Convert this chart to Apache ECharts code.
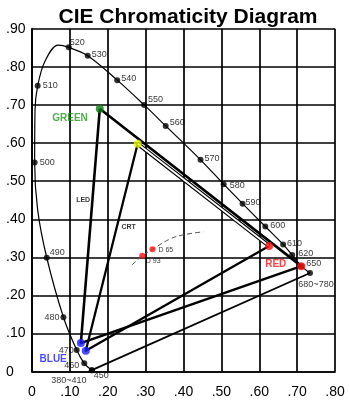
<!DOCTYPE html>
<html>
<head>
<meta charset="utf-8">
<script src="https://cdn.jsdelivr.net/npm/echarts@6/dist/echarts.min.js"></script>
<style>
  html, body { margin: 0; padding: 0; background: #fff; }
  #chart { width: 350px; height: 405px; }
</style>
</head>
<body>
<div id="chart"></div>
<script>
// Wavelength markers on the spectral locus (nm) and their chromaticity coordinates
const markerNames = ['380~410', '450', '460', '470', '480', '490', '500', '510', '520', '530', '540',
  '550', '560', '570', '580', '590', '600', '610', '620', '650', '680~780'];
const markerX = [0.158, 0.158, 0.138, 0.118, 0.083, 0.039, 0.007, 0.015, 0.097, 0.147, 0.225,
  0.296, 0.353, 0.445, 0.506, 0.556, 0.616, 0.663, 0.687, 0.711, 0.734];
const markerY = [0.004, 0.004, 0.022, 0.057, 0.143, 0.299, 0.549, 0.750, 0.851, 0.829, 0.765,
  0.700, 0.645, 0.556, 0.492, 0.441, 0.381, 0.334, 0.306, 0.277, 0.259];

// Spectral locus outline, long-wave end round to the blue end
const locusX = [0.734, 0.711, 0.687, 0.663, 0.616, 0.556, 0.506, 0.445, 0.353, 0.296, 0.225, 0.147,
  0.097, 0.069, 0.034, 0.015, 0.008, 0.007, 0.015, 0.039, 0.083, 0.118, 0.138, 0.158];
const locusY = [0.259, 0.277, 0.306, 0.334, 0.381, 0.441, 0.492, 0.556, 0.645, 0.700, 0.765, 0.829,
  0.851, 0.857, 0.814, 0.750, 0.687, 0.549, 0.424, 0.299, 0.143, 0.057, 0.022, 0.004];

// Display primaries
const ledGreen = [0.179, 0.690];
const ledBlue = [0.129, 0.075];
const ledRed = [0.711, 0.277];
const crtGreen = [0.279, 0.598];
const crtBlue = [0.142, 0.055];
const crtRed = [0.626, 0.330];

// White points and the black-body curve through them
const whiteNames = ['D 65', 'D 93'];
const whiteX = [0.318, 0.291];
const whiteY = [0.321, 0.304];
const planckX = [0.264, 0.291, 0.318, 0.364, 0.399, 0.452];
const planckY = [0.280, 0.304, 0.321, 0.348, 0.359, 0.367];

// Gamut captions and where they sit
const gamutNames = ['LED', 'CRT'];
const gamutX = [0.135, 0.255];
const gamutY = [0.451, 0.380];

// Tick values
const xTicks = [0, 0.1, 0.2, 0.3, 0.4, 0.5, 0.6, 0.7, 0.8];
const yTicks = [0, 0.1, 0.2, 0.3, 0.4, 0.5, 0.6, 0.7, 0.8, 0.9];

const FONT = '"Liberation Sans", Arial, sans-serif';
const fmtTick = v => v === 0 ? '0' : '.' + String(Math.round(v * 100)).padStart(2, '0');
const pairs = (xs, ys) => xs.map((x, i) => [x, ys[i]]);

// Label placement for each wavelength marker: [align, dx, dy]
const markerLabelPlace = {
  '380~410': ['center', -23, 10], '450': ['left', 2, 5], '460': ['right', -5, 2],
  '470': ['right', -3, 1], '480': ['right', -4, 0], '490': ['left', 3, -5],
  '500': ['left', 5, 0], '510': ['left', 5, 0], '520': ['left', 1, -5],
  '530': ['left', 4, -1], '540': ['left', 4, -2], '550': ['left', 4, -5],
  '560': ['left', 4, -3], '570': ['left', 4, -1], '580': ['left', 6, 1],
  '590': ['left', 3, -1], '600': ['left', 5, -1], '610': ['left', 4, -1],
  '620': ['left', 6, -2], '650': ['left', 5, -3], '680~780': ['center', 6, 12]
};

const series = [];

// Spectral locus
series.push({
  type: 'line', data: pairs(locusX, locusY), smooth: 0.35, symbol: 'none',
  lineStyle: { color: '#000', width: 1.2 }, z: 3, silent: true
});
// Line of purples
series.push({
  type: 'line', symbol: 'none', silent: true, z: 3,
  data: [[markerX[1], markerY[1]], [markerX[markerX.length - 1], markerY[markerY.length - 1]]],
  lineStyle: { color: '#000', width: 1.8 }
});

// LED gamut triangle
series.push({
  type: 'line', symbol: 'none', silent: true, z: 4,
  data: [ledGreen, ledBlue, ledRed, ledGreen],
  lineStyle: { color: '#000', width: 2.6, join: 'round' }
});
// CRT gamut: two solid sides
series.push({
  type: 'line', symbol: 'none', silent: true, z: 4,
  data: [crtGreen, crtBlue, crtRed],
  lineStyle: { color: '#000', width: 2.3, join: 'round' }
});
// CRT gamut: outlined green-red side
series.push({
  type: 'line', symbol: 'none', silent: true, z: 4,
  data: [crtGreen, crtRed], lineStyle: { color: '#000', width: 4.2 }
});
series.push({
  type: 'line', symbol: 'none', silent: true, z: 4,
  data: [crtGreen, crtRed], lineStyle: { color: '#fff', width: 1.8 }
});

// Black-body curve
series.push({
  type: 'line', data: pairs(planckX, planckY), smooth: 0.4, symbol: 'none', silent: true, z: 3,
  lineStyle: { color: '#555', width: 1, type: [5, 3] }
});

// Wavelength markers
series.push({
  type: 'scatter', symbol: 'circle', symbolSize: 6, z: 6,
  itemStyle: { color: '#000' },
  data: markerNames.map((n, i) => {
    const p = markerLabelPlace[n];
    return {
      value: [markerX[i], markerY[i]], name: n,
      label: {
        show: true, formatter: n, position: 'inside', align: p[0], verticalAlign: 'middle',
        offset: [p[1], p[2]], color: '#000', fontSize: 9, fontFamily: FONT
      }
    };
  })
});

// Primaries
const primaryLabel = (text, color, dx, dy) => ({
  show: !!text, formatter: text, position: 'inside', align: 'right', verticalAlign: 'middle',
  offset: [dx, dy], color: color, fontSize: 10, fontWeight: 'bold', fontFamily: FONT
});
series.push({
  type: 'scatter', symbol: 'circle', symbolSize: 8, z: 7,
  data: [
    { value: ledGreen, itemStyle: { color: '#0b7d12' }, label: primaryLabel('GREEN', '#1e9a1e', -12, 10) },
    { value: crtGreen, itemStyle: { color: '#e2f500' }, label: primaryLabel('', '#000', 0, 0) },
    { value: ledRed, itemStyle: { color: '#ff1010' }, label: primaryLabel('RED', '#ff1010', -15, -2) },
    { value: crtRed, itemStyle: { color: '#ff1010' }, label: primaryLabel('', '#000', 0, 0) },
    { value: ledBlue, itemStyle: { color: '#1c1cff' }, label: primaryLabel('', '#000', 0, 0) },
    { value: crtBlue, itemStyle: { color: '#1c1cff' }, label: primaryLabel('BLUE', '#1c1cff', -19, 9) }
  ]
});

// White points
const whiteLabelPlace = [['left', 6, 1], ['center', 11, 5]];
series.push({
  type: 'scatter', symbol: 'circle', symbolSize: 6, z: 7,
  itemStyle: { color: '#ff1010' },
  data: whiteNames.map((n, i) => ({
    value: [whiteX[i], whiteY[i]],
    label: {
      show: true, formatter: n, position: 'inside', align: whiteLabelPlace[i][0],
      verticalAlign: 'middle', offset: [whiteLabelPlace[i][1], whiteLabelPlace[i][2]],
      color: '#000', fontSize: 7, fontFamily: FONT
    }
  }))
});

// Gamut captions
series.push({
  type: 'scatter', symbolSize: 0, z: 7, silent: true,
  data: gamutNames.map((n, i) => ({
    value: [gamutX[i], gamutY[i]],
    label: {
      show: true, formatter: n, position: 'inside', color: '#000', fontSize: 7,
      fontWeight: 'bold', fontFamily: FONT
    }
  }))
});

const gridLine = { show: true, lineStyle: { color: '#000', width: 1.7 } };

const chart = echarts.init(document.getElementById('chart'), null, { renderer: 'canvas' });
chart.setOption({
  animation: false,
  backgroundColor: '#fff',
  title: {
    text: 'CIE Chromaticity Diagram', left: 183, top: 2, textAlign: 'center',
    textStyle: { fontSize: 21, fontWeight: 'bold', color: '#000', fontFamily: FONT }
  },
  grid: { left: 32, right: 15, top: 28.7, bottom: 33.3, containLabel: false },
  xAxis: {
    type: 'value', min: xTicks[0], max: xTicks[xTicks.length - 1], interval: 0.1,
    axisLine: { show: true, lineStyle: { color: '#000', width: 1.7 } },
    axisTick: { show: false }, splitLine: gridLine,
    axisLabel: { formatter: fmtTick, color: '#000', fontSize: 14, fontFamily: FONT, margin: 13 }
  },
  yAxis: {
    type: 'value', min: yTicks[0], max: yTicks[yTicks.length - 1], interval: 0.1,
    axisLine: { show: true, lineStyle: { color: '#000', width: 1.7 } },
    axisTick: { show: false }, splitLine: gridLine,
    axisLabel: { formatter: fmtTick, color: '#000', fontSize: 14, fontFamily: FONT, margin: 26, align: 'left' }
  },
  series: series
});
</script>
</body>
</html>
